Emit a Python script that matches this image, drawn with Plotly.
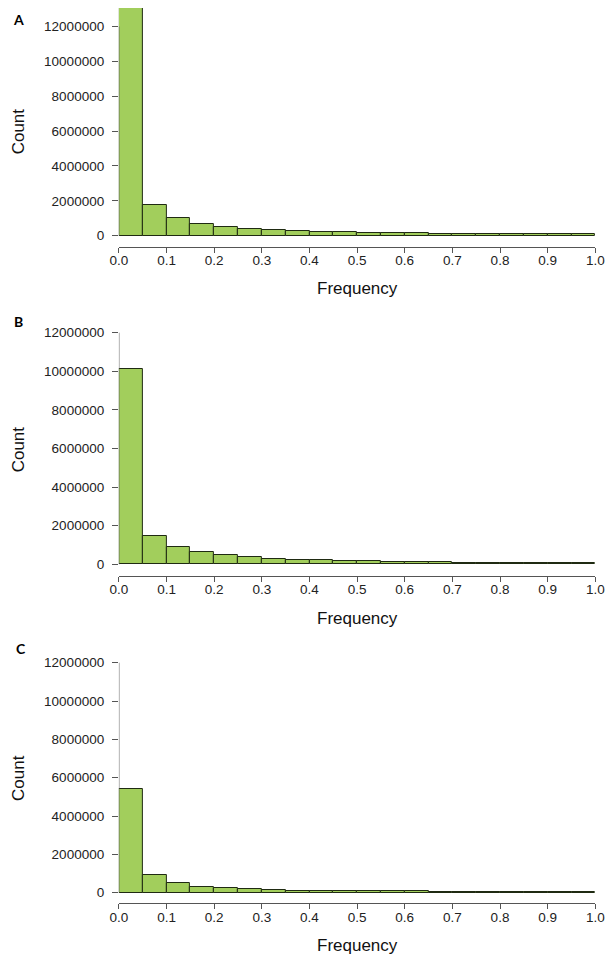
import plotly.graph_objects as go

# ---- data ----
bin_left = [0.00, 0.05, 0.10, 0.15, 0.20, 0.25, 0.30, 0.35, 0.40, 0.45,
            0.50, 0.55, 0.60, 0.65, 0.70, 0.75, 0.80, 0.85, 0.90, 0.95]
bin_width = 0.05

counts_A = [13350000, 1770000, 1000000, 650000, 480000, 370000, 310000, 250000, 210000, 190000,
            170000, 150000, 130000, 120000, 110000, 100000, 95000, 90000, 85000, 80000]
counts_B = [10100000, 1490000, 900000, 620000, 470000, 360000, 290000, 240000, 210000, 190000,
            160000, 140000, 120000, 100000, 90000, 80000, 75000, 70000, 65000, 60000]
counts_C = [5390000, 900000, 500000, 310000, 230000, 170000, 140000, 110000, 95000, 80000,
            75000, 70000, 65000, 60000, 60000, 58000, 56000, 55000, 55000, 55000]

panel_labels = ["A", "B", "C"]
y_tick_vals = [0, 2000000, 4000000, 6000000, 8000000, 10000000, 12000000]
y_tick_text = ["0", "2000000", "4000000", "6000000", "8000000", "10000000", "12000000"]
x_tick_vals = [0.0, 0.1, 0.2, 0.3, 0.4, 0.5, 0.6, 0.7, 0.8, 0.9, 1.0]
x_tick_text = ["0.0", "0.1", "0.2", "0.3", "0.4", "0.5", "0.6", "0.7", "0.8", "0.9", "1.0"]
x_title = "Frequency"
y_title = "Count"

# ---- layout geometry (page pixels) ----
PAGE_W, PAGE_H = 614, 956
OFF = 8  # default body margin of the html page
W, H = PAGE_W - OFF, PAGE_H - OFF
PLOT_L, PLOT_R = 113, 604
panels = [
    dict(top=8, axis=246.7, zero=235.7, tick12=26.5, label=(10, 19)),
    dict(top=323, axis=576.0, zero=564.3, tick12=332.7, label=(10, 321)),
    dict(top=653, axis=903.3, zero=892.7, tick12=662.7, label=(12, 648)),
]
series = [counts_A, counts_B, counts_C]

FILL = "#a2ce5c"
EDGE = "#1f2a12"
AXC = "#555555"
FONT = "Liberation Sans, Arial, sans-serif"

fig = go.Figure()
centers = [b + bin_width / 2 for b in bin_left]

def fy(py):
    return 1 - (py - OFF) / H

def fx(px):
    return (px - OFF) / W

annotations = []
shapes = []
for i, (p, vals) in enumerate(zip(panels, series)):
    n = i + 1
    xa = "x" if n == 1 else f"x{n}"
    ya = "y" if n == 1 else f"y{n}"
    fig.add_trace(go.Bar(
        x=centers, y=vals, width=[bin_width] * len(vals),
        marker=dict(color=FILL, line=dict(color=EDGE, width=1)),
        xaxis=xa, yaxis=ya, showlegend=False, hoverinfo="x+y",
    ))
    per = (p["zero"] - p["tick12"]) / 12000000.0  # px per count
    ymin = -(p["axis"] - p["zero"]) / per
    ymax = (p["zero"] - p["top"]) / per
    xkey = "xaxis" if n == 1 else f"xaxis{n}"
    ykey = "yaxis" if n == 1 else f"yaxis{n}"
    fig.update_layout(**{
        xkey: dict(domain=[fx(PLOT_L), fx(PLOT_R)], range=[0, 1], anchor=ya,
                   showgrid=False, zeroline=False, showline=True, linecolor=AXC, linewidth=1,
                   ticks="outside", ticklen=5, tickcolor=AXC, tickwidth=1,
                   tickvals=x_tick_vals, ticktext=x_tick_text, ticklabelstandoff=-4,
                   tickfont=dict(family=FONT, size=13.5, color="#222222"),
                   fixedrange=True),
        ykey: dict(domain=[fy(p["axis"]), fy(p["top"])], range=[ymin, ymax], anchor=xa,
                   showgrid=False, zeroline=False, showline=False,
                   ticks="outside", ticklen=6, tickcolor=AXC, tickwidth=1,
                   tickvals=y_tick_vals, ticktext=y_tick_text, ticklabelstandoff=5,
                   tickfont=dict(family=FONT, size=13.5, color="#222222"),
                   fixedrange=True),
    })
    # y axis line spanning first to last tick (R style)
    shapes.append(dict(type="line", xref=xa, yref=ya, x0=0, x1=0,
                       y0=y_tick_vals[0], y1=y_tick_vals[-1],
                       line=dict(color=AXC, width=1)))
    # axis titles
    annotations.append(dict(text=x_title, xref="paper", yref="paper",
                            x=fx((PLOT_L + PLOT_R) / 2), y=fy(p["axis"] + 42),
                            showarrow=False, xanchor="center", yanchor="middle",
                            font=dict(family=FONT, size=17, color="#111111")))
    annotations.append(dict(text=y_title, xref="paper", yref="paper",
                            x=fx(9), y=fy((min(p["top"], p["tick12"] - 10) + p["axis"]) / 2 + (4 if n == 1 else 0)),
                            showarrow=False, xanchor="center", yanchor="middle", textangle=-90,
                            font=dict(family=FONT, size=17, color="#111111")))
    lx, ly = p["label"]
    annotations.append(dict(text=f"<b>{panel_labels[i]}</b>", xref="paper", yref="paper",
                            x=fx(lx), y=fy(ly), showarrow=False,
                            xanchor="center", yanchor="middle",
                            font=dict(family="Lato, Liberation Sans, sans-serif", size=14, color="#000000")))

fig.update_layout(
    width=W, height=H,
    margin=dict(l=0, r=0, t=0, b=0),
    paper_bgcolor="white", plot_bgcolor="white",
    bargap=0,
    annotations=annotations, shapes=shapes,
)

fig.write_html("out.html")
